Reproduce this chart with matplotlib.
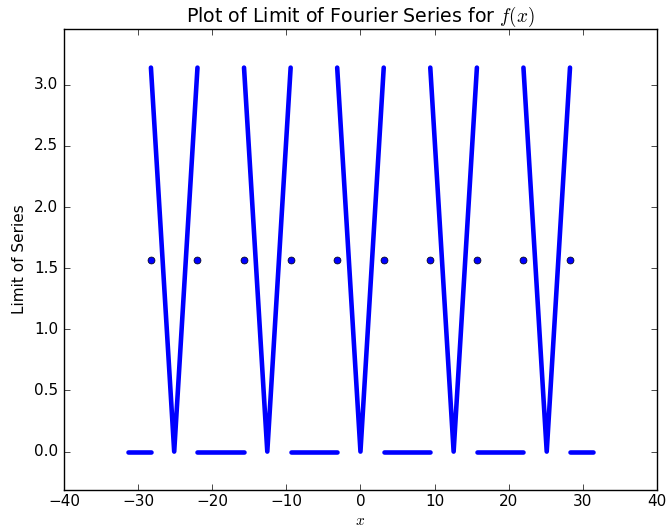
import numpy as np
import matplotlib
matplotlib.use("Agg")
import matplotlib.pyplot as plt

plt.style.use("classic")

# Limit of the Fourier series (period 4*pi)
# V pieces: left top -> bottom -> right top
v_left_x  = [-28.27, -15.71, -3.14, 9.42, 21.99]
v_mid_x   = [-25.13, -12.57, 0.0, 12.57, 25.13]
v_right_x = [-21.99, -9.42, 3.14, 15.71, 28.27]
v_top     = 3.14
v_bottom  = 0.0

# flat zero pieces
flat_start = [-31.42, -21.99, -9.42, 3.14, 15.71, 28.27]
flat_end   = [-28.27, -15.71, -3.14, 9.42, 21.99, 31.42]
flat_y     = 0.0

# values at the jumps
jump_x = [-28.27, -21.99, -15.71, -9.42, -3.14, 3.14, 9.42, 15.71, 21.99, 28.27]
jump_y = [1.57] * len(jump_x)

fig = plt.figure(figsize=(6.7, 5.31), dpi=100, facecolor="white")
ax = fig.add_axes([0.0955, 0.0772, 0.885, 0.8682])

for xl, xm, xr in zip(v_left_x, v_mid_x, v_right_x):
    ax.plot([xl, xm, xr], [v_top, v_bottom, v_top], color="b", lw=3.3,
            solid_capstyle="round", solid_joinstyle="round")
for xs, xe in zip(flat_start, flat_end):
    ax.plot([xs, xe], [flat_y, flat_y], color="b", lw=3.3,
            solid_capstyle="round")
ax.plot(jump_x, jump_y, "o", color="b", markersize=5,
        markeredgecolor="k", markeredgewidth=0.5)

ax.set_xlim(-40, 40)
ax.set_ylim(-0.1 * np.pi, 1.1 * np.pi)
ax.set_xticks(np.arange(-40, 41, 10))
ax.set_yticks(np.arange(0, 3.01, 0.5))
ax.set_title("Plot of Limit of Fourier Series for $f(x)$", fontsize=13.7)
ax.set_xlabel("$x$", fontsize=11, labelpad=3)
ax.set_ylabel("Limit of Series", fontsize=11)
ax.tick_params(labelsize=11)
ax.tick_params(axis="x", pad=3)

plt.savefig("out.png", dpi=100, facecolor="white")
plt.close()
